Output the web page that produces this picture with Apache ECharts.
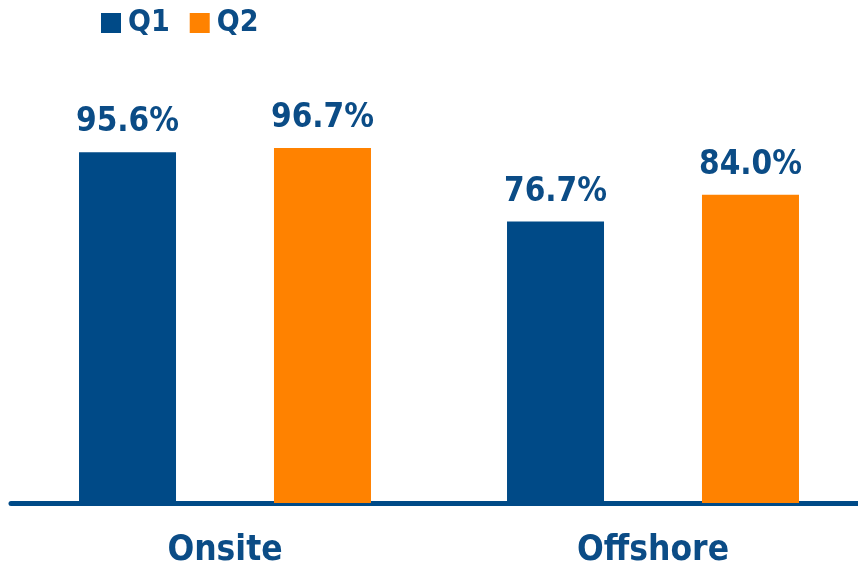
<!DOCTYPE html>
<html><head><meta charset="utf-8">
<script src="https://cdn.jsdelivr.net/npm/echarts@6/dist/echarts.min.js"></script>
<style>html,body{margin:0;padding:0;background:#fff}#c{width:858px;height:566px}</style>
</head><body><div id="c"></div>
<script>
const categories = ['Onsite', 'Offshore'];
const seriesNames = ['Q1', 'Q2'];
const q1Values = [95.6, 76.7];
const q2Values = [96.7, 84.0];

const FONT = '"Liberation Sans Narrow", "Arial Narrow", "DejaVu Sans Condensed", sans-serif';
const BLUE = '#004A87';
const ORANGE = '#FF8200';
const TEXT = '#0B4C86';

const chart = echarts.init(document.getElementById('c'));
const labelCfg = {
  show: true, position: 'top', distance: 13,
  formatter: p => p.value.toFixed(1) + '%',
  color: TEXT, fontFamily: FONT, fontWeight: 'bold', fontSize: 33
};
chart.setOption({
  animation: false,
  legend: {
    left: 96, top: 3, icon: 'rect', itemWidth: 20, itemHeight: 20, itemGap: 20,
    textStyle: { color: TEXT, fontFamily: FONT, fontWeight: 'bold', fontSize: 30, padding: [0, 0, 0, 2] },
    data: seriesNames
  },
  grid: { left: 11, width: 856, top: 136, bottom: 63, containLabel: false, outerBoundsMode: 'none' },
  xAxis: {
    type: 'category', data: categories,
    axisLine: { lineStyle: { color: BLUE, width: 5 } },
    axisTick: { show: false },
    axisLabel: { color: TEXT, fontFamily: FONT, fontWeight: 'bold', fontSize: 35, margin: 30 }
  },
  yAxis: { type: 'value', min: 0, max: 100, show: false, splitLine: { show: false } },
  series: [
    { name: seriesNames[0], type: 'bar', data: q1Values, barWidth: 97, barGap: '101%', itemStyle: { color: BLUE }, label: labelCfg },
    { name: seriesNames[1], type: 'bar', data: q2Values, barWidth: 97, itemStyle: { color: ORANGE }, label: labelCfg }
  ]
});
</script></body></html>
